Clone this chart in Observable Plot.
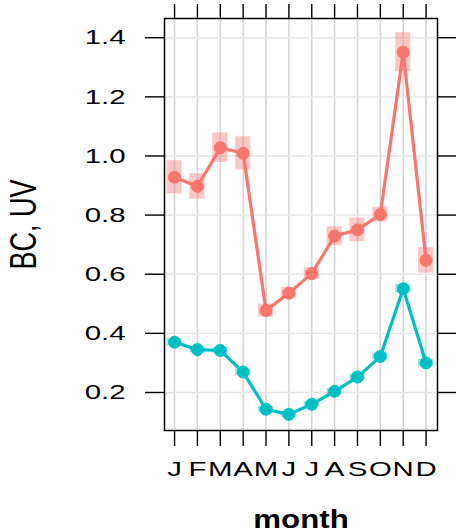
<!DOCTYPE html>
<html>
<head>
<meta charset="utf-8">
<script src="https://cdn.jsdelivr.net/npm/d3@7"></script>
<script src="https://cdn.jsdelivr.net/npm/@observablehq/plot@0.6"></script>
<style>
  html, body { margin: 0; padding: 0; background: #fff; }
</style>
</head>
<body>
<div id="chart"></div>
<script>
// ---- data ----
const months = [1, 2, 3, 4, 5, 6, 7, 8, 9, 10, 11, 12];
const monthLabels = ["J", "F", "M", "A", "M", "J", "J", "A", "S", "O", "N", "D"];
const bcValues = [0.928, 0.897, 1.028, 1.009, 0.477, 0.536, 0.602, 0.729, 0.750, 0.802, 1.351, 0.647];
const bcErrors = [0.056, 0.043, 0.050, 0.056, 0.022, 0.020, 0.020, 0.032, 0.040, 0.025, 0.066, 0.043];
const uvValues = [0.370, 0.345, 0.342, 0.269, 0.143, 0.126, 0.160, 0.204, 0.252, 0.322, 0.551, 0.300];
const uvErrors = [0.012, 0.010, 0.010, 0.010, 0.010, 0.010, 0.010, 0.010, 0.010, 0.012, 0.014, 0.012];
const yTicks = [0.2, 0.4, 0.6, 0.8, 1.0, 1.2, 1.4];
const seriesNames = ["BC", "UV"];
const seriesColors = ["#F8766D", "#00BFC4"];
const xLabel = "month";
const yLabel = "BC, UV";

const bcRows = months.map((m, i) => ({month: m, value: bcValues[i], err: bcErrors[i]}));
const uvRows = months.map((m, i) => ({month: m, value: uvValues[i], err: uvErrors[i]}));
const series = [bcRows, uvRows];

const halfW = 0.33;
const marks = [
  Plot.gridX(months, {stroke: "#d6d6d6", strokeWidth: 1.6, strokeOpacity: 1}),
  Plot.gridY(yTicks, {stroke: "#e6e6e6", strokeWidth: 1.4, strokeOpacity: 1})
];
series.forEach((rows, k) => {
  marks.push(Plot.rect(rows, {
    x1: d => d.month - halfW, x2: d => d.month + halfW,
    y1: d => d.value - d.err, y2: d => d.value + d.err,
    fill: seriesColors[k], fillOpacity: 0.4
  }));
});
series.forEach((rows, k) => {
  marks.push(Plot.line(rows, {x: "month", y: "value", stroke: seriesColors[k], strokeWidth: 3.2}));
  marks.push(Plot.dot(rows, {x: "month", y: "value", r: 6, fill: seriesColors[k], stroke: seriesColors[k], strokeWidth: 1}));
});
marks.push(
  Plot.frame({stroke: "#000", strokeWidth: 1.5}),
  Plot.axisX(months, {anchor: "bottom", tickSize: 16, tickPadding: 15, tickFormat: d => monthLabels[d - 1],
    stroke: "#000", strokeWidth: 1.4, fill: "#000", label: null}),
  Plot.axisX(months, {anchor: "top", tickSize: 15, tickFormat: () => "", stroke: "#000", strokeWidth: 1.4, label: null}),
  Plot.axisY(yTicks, {anchor: "left", tickSize: 19, tickPadding: 20, tickFormat: d3.format(".1f"),
    stroke: "#000", strokeWidth: 1.4, fill: "#000", label: null}),
  Plot.axisY(yTicks, {anchor: "right", tickSize: 18, tickFormat: () => "", stroke: "#000", strokeWidth: 1.4, label: null}),
  Plot.text([xLabel], {frameAnchor: "bottom", dy: 97, lineAnchor: "bottom", textAnchor: "middle",
    fontSize: 25, fontWeight: "bold", fill: "#000"}),
  Plot.text([yLabel], {frameAnchor: "left", dx: -141, rotate: -90, lineAnchor: "middle", textAnchor: "middle",
    fontSize: 27, fill: "#000"})
);

const chart = Plot.plot({
  width: 457,
  height: 532,
  marginLeft: 164,
  marginRight: 20,
  marginTop: 18,
  marginBottom: 102,
  x: {type: "linear", domain: [0.56, 12.5], axis: null},
  y: {domain: [0.0714, 1.465], axis: null},
  style: {fontFamily: "'Liberation Sans', Arial, sans-serif", fontSize: "21px", background: "#fff", color: "#000"},
  marks
});
document.getElementById("chart").appendChild(chart);

// R output in the reference is horizontally stretched: mimic by scaling text
function stretchEl(t, sx, sy) {
  let tr = t.getAttribute("transform") || "";
  const x = +(t.getAttribute("x") || 0), y = +(t.getAttribute("y") || 0);
  if (x || y) { tr += ` translate(${x},${y})`; t.setAttribute("x", 0); t.setAttribute("y", 0); }
  t.setAttribute("transform", (tr + ` scale(${sx},${sy})`).trim());
}
chart.querySelectorAll('g[aria-label="x-axis tick label"] text, g[aria-label="y-axis tick label"] text')
  .forEach(t => stretchEl(t, 1.4, 1));
chart.querySelectorAll("text").forEach(t => {
  if (t.textContent === xLabel) stretchEl(t, 1.25, 1);
  else if (t.textContent === yLabel) stretchEl(t, 1, 1.4);
});
</script>
</body>
</html>
